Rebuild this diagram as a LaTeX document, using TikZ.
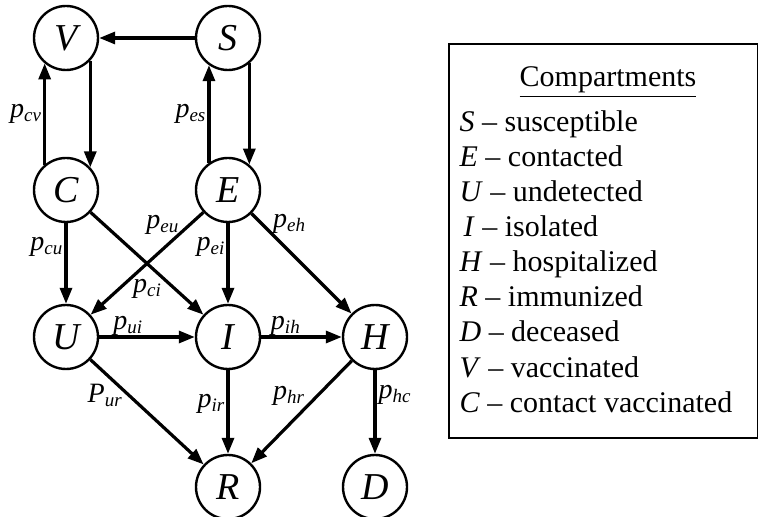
\documentclass[tikz,border=0pt]{standalone}
\usepackage{fontspec}
\setmainfont{Liberation Serif}
\usetikzlibrary{arrows.meta}

\newcommand{\prate}[2]{\textit{#1}\raisebox{-2pt}{\fontsize{9.5}{9.5}\selectfont\textit{#2}}}

\begin{document}
\begin{tikzpicture}[->,>={Triangle[length=8pt,width=6pt]},line width=1.6pt,node distance=76pt,
  comp/.style={circle,draw,line width=1.2pt,minimum size=32pt,inner sep=0pt,font=\fontsize{19}{19}\selectfont\itshape},
  lab/.style={font=\fontsize{14}{14}\selectfont,inner sep=1pt},
  legtext/.style={anchor=base west,inner sep=0pt,font=\fontsize{15}{17}\selectfont}]
\useasboundingbox (-33pt,19pt) rectangle (346pt,-239.5pt);

% compartments
\node[comp] (V) at (0,0) {V};
\node[comp] (S) [right of=V,node distance=81pt] {S};
\node[comp] (C) [below of=V] {C};
\node[comp] (E) [below of=S] {E};
\node[comp] (U) [below of=C,node distance=73.5pt] {U};
\node[comp] (I) [below of=E,node distance=73.5pt] {I};
\node[comp] (H) [right of=I,node distance=73.5pt] {H};
\node[comp] (R) [below of=I,node distance=75pt] {R};
\node[comp] (D) [below of=H,node distance=75pt] {D};

% transitions
\path[->] (S) edge (V)
(C.130) edge node[lab,left] {\prate{p}{cv}} (V.230)
(V.317) edge (C.43)
(E.125) edge node[lab,left] {\prate{p}{es}} (S.235)
(S.310) edge (E.50)
(C) edge node[lab,left,pos=0.3] {\prate{p}{cu}} (U)
(C) edge node[lab,below=6pt] {\prate{p}{ci}} (I)
(E) edge node[lab,left=4pt,pos=0.12] {\prate{p}{eu}} (U)
(E) edge node[lab,left,pos=0.3] {\prate{p}{ei}} (I)
(E) edge node[lab,right=4pt,pos=0.1] {\prate{p}{eh}} (H)
(U) edge node[lab,above,pos=0.3,inner sep=0pt] {\prate{p}{ui}} (I)
(I) edge node[lab,above,pos=0.3,inner sep=0pt] {\prate{p}{ih}} (H)
(U) edge node[lab,below=1pt,xshift=-3pt,pos=0.18] {\prate{P}{ur}} (R)
(I) edge node[lab,left,pos=0.4] {\prate{p}{ir}} (R)
(H) edge node[lab,left=5pt,pos=0.34] {\prate{p}{hr}} (R)
(H) edge node[lab,right,pos=0.3] {\prate{p}{hc}} (D);

% legend
\node[draw,-,line width=1pt,minimum width=154.5pt,minimum height=197pt,anchor=north west,inner sep=0pt] (legend) at (191pt,-2.5pt) {};
\node[legtext,anchor=base] (title) at (271pt,-24.5pt) {\underline{Compartments}};
\foreach \n/\w [count=\k] in {S/susceptible,E/contacted,U/undetected,\hspace{2pt}I/isolated,H/hospitalized,R/immunized,D/deceased,V/vaccinated,C/contact vaccinated}
  \node[legtext] (leg\k) at (196pt,{-29.5pt-\k*17.5pt}) {\textit{\n} – \w};
\end{tikzpicture}
\end{document}
